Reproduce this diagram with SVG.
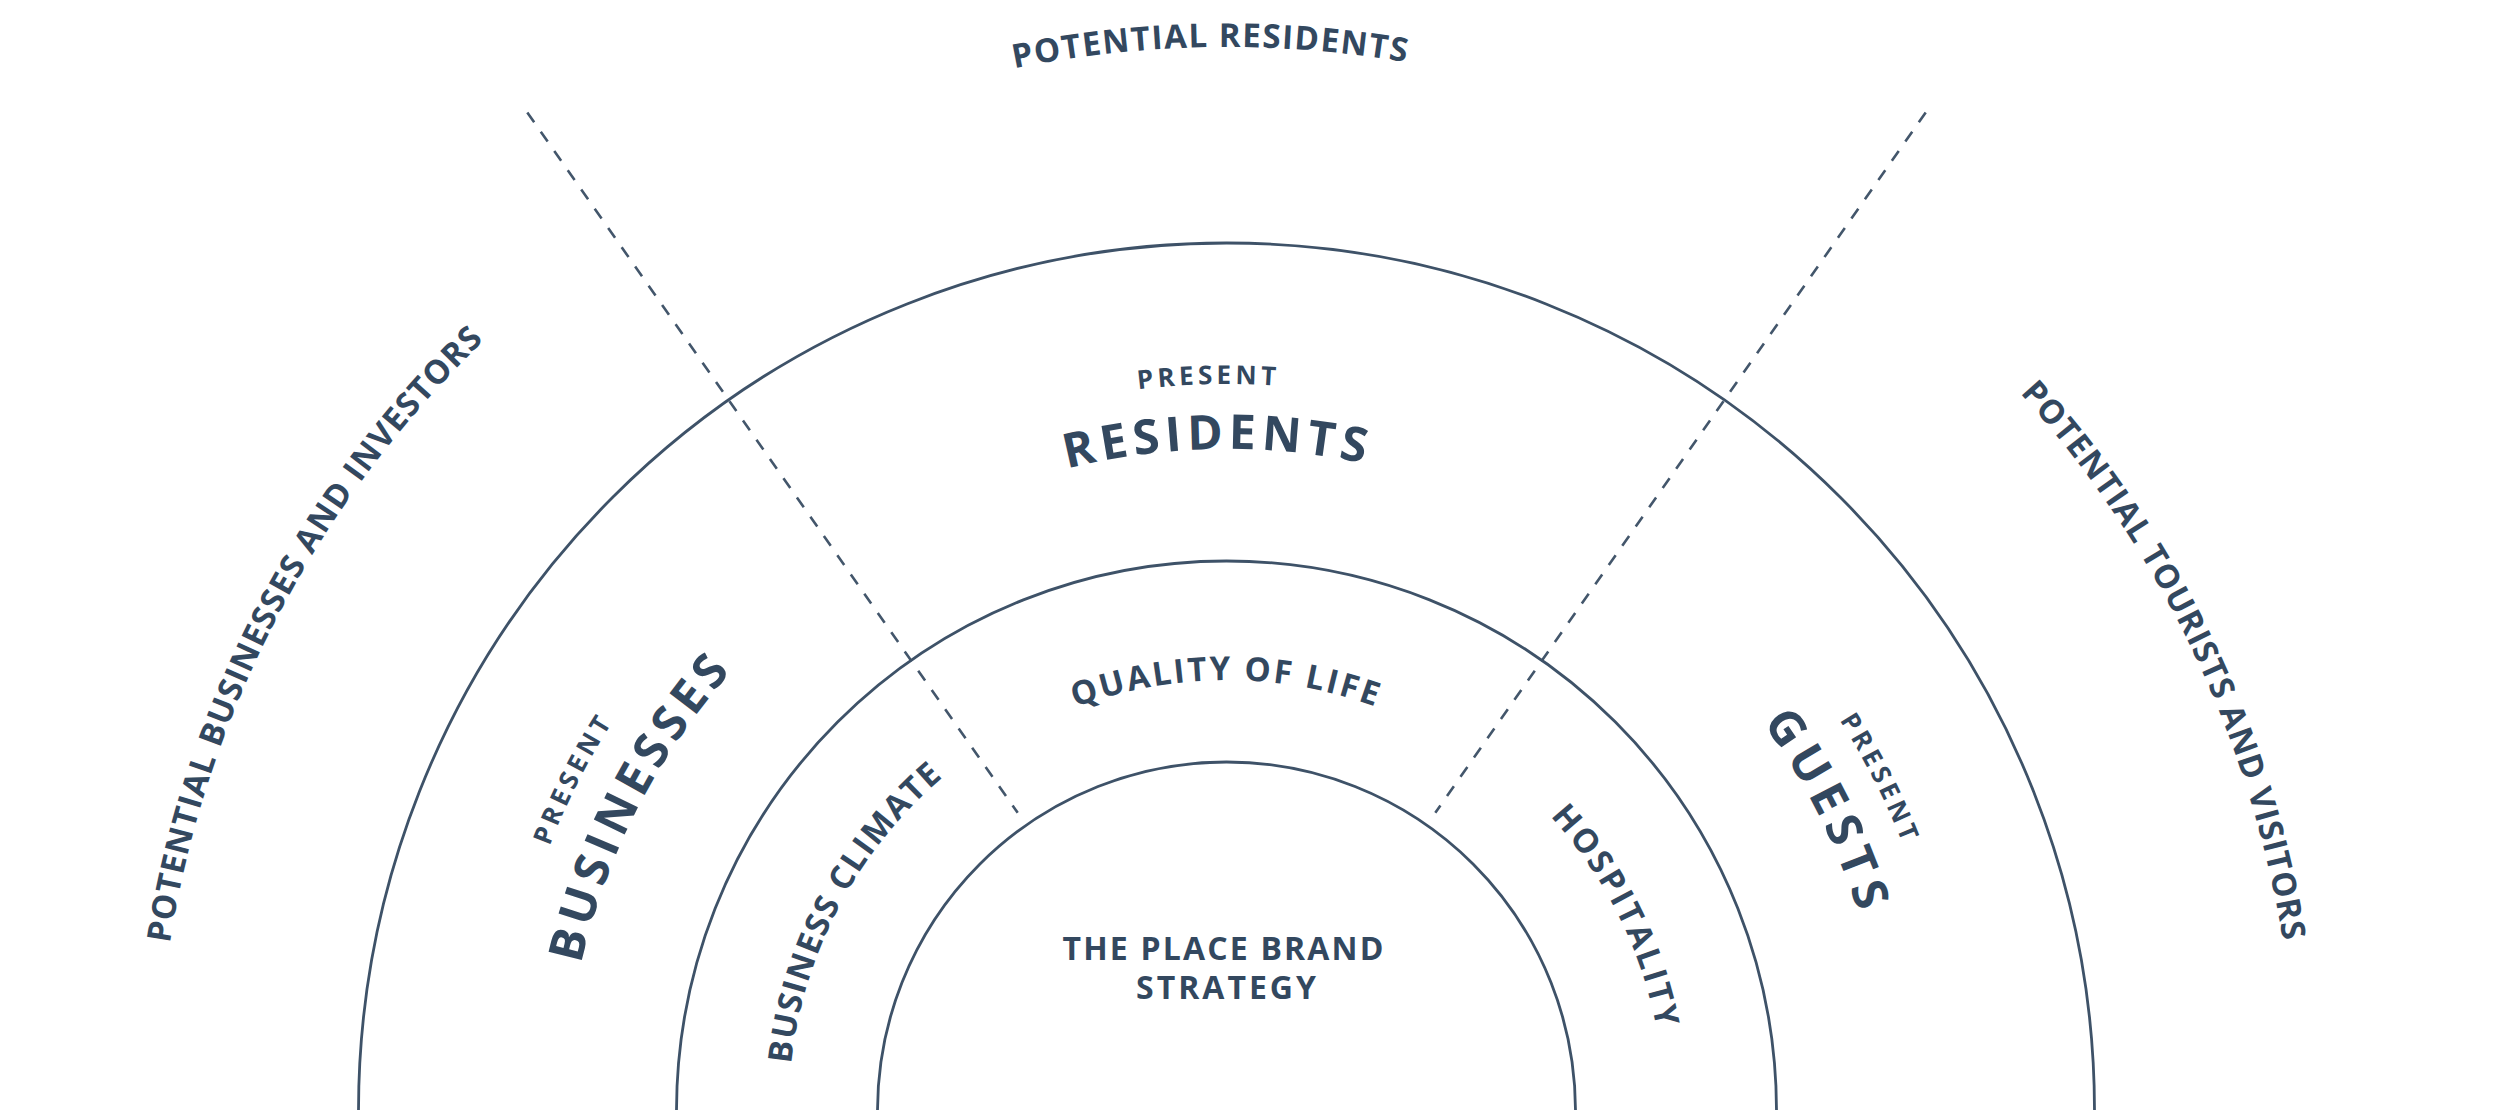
<svg xmlns="http://www.w3.org/2000/svg" xmlns:xlink="http://www.w3.org/1999/xlink" width="2500" height="1110" viewBox="0 0 2500 1110">
  <style>
    .ring { fill: none; stroke: #3e5268; stroke-width: 2.8; }
    .divider { fill: none; stroke: #43566b; stroke-width: 2.6; stroke-dasharray: 12 11.5; }
    .lbl { font-family: "Open Sans", "Liberation Sans", sans-serif; font-weight: 700; fill: #33485f; text-anchor: middle; }
    .pot { font-size: 33px; }
    .pre { font-size: 26px; }
    .big { font-size: 48px; }
    .mid { font-size: 33px; }
    .core { font-size: 32px; }
  </style>
  <defs>
    <path id="arc1064" d="M 162.5 1111 A 1064 1064 0 0 1 2290.5 1111"/>
    <path id="arc1070" d="M 156.5 1111 A 1070 1070 0 0 1 2296.5 1111"/>
    <path id="arc727" d="M 499.5 1111 A 727 727 0 0 1 1953.5 1111"/>
    <path id="arc662" d="M 564.5 1111 A 662 662 0 0 1 1888.5 1111"/>
    <path id="arc431" d="M 795.5 1111 A 431 431 0 0 1 1657.5 1111"/>
    <path id="arc438" d="M 788.5 1111 A 438 438 0 0 1 1664.5 1111"/>
  </defs>
  <rect width="2500" height="1110" fill="#ffffff"/>

  <g id="connectors">
    <line class="divider" x1="527.3" y1="112.5" x2="1017.7" y2="812.8"/>
    <line class="divider" x1="1925.7" y1="112.5" x2="1435.3" y2="812.8"/>
  </g>

  <g id="core-strategy">
    <circle class="ring" cx="1226.5" cy="1111" r="349"/>
    <text class="lbl core" x="1223" y="960" textLength="321" lengthAdjust="spacing">THE PLACE BRAND</text>
    <text class="lbl core" x="1226" y="999" textLength="180" lengthAdjust="spacing">STRATEGY</text>
  </g>

  <g id="ring-middle">
    <circle class="ring" cx="1226.5" cy="1111" r="550"/>
  </g>

  <g id="ring-outer">
    <circle class="ring" cx="1226.5" cy="1111" r="868"/>
  </g>

  <g id="quality-of-life">
    <text class="lbl mid"><textPath href="#arc431" xlink:href="#arc431" startOffset="49.89%" textLength="306" lengthAdjust="spacing">QUALITY OF LIFE</textPath></text>
  </g>
  <g id="business-climate">
    <text class="lbl mid"><textPath href="#arc438" xlink:href="#arc438" startOffset="15.5%" textLength="332" lengthAdjust="spacing">BUSINESS CLIMATE</textPath></text>
  </g>
  <g id="hospitality">
    <text class="lbl mid"><textPath href="#arc438" xlink:href="#arc438" startOffset="85.2%" textLength="240" lengthAdjust="spacing">HOSPITALITY</textPath></text>
  </g>

  <g id="present-residents">
    <text class="lbl pre"><textPath href="#arc727" xlink:href="#arc727" startOffset="49.13%" textLength="138" lengthAdjust="spacing">PRESENT</textPath></text>
    <text class="lbl big"><textPath href="#arc662" xlink:href="#arc662" startOffset="49.45%" textLength="300" lengthAdjust="spacing">RESIDENTS</textPath></text>
  </g>
  <g id="present-businesses">
    <text class="lbl pre"><textPath href="#arc727" xlink:href="#arc727" startOffset="14.89%" textLength="138" lengthAdjust="spacing">PRESENT</textPath></text>
    <text class="lbl big"><textPath href="#arc662" xlink:href="#arc662" startOffset="15.1%" textLength="332" lengthAdjust="spacing">BUSINESSES</textPath></text>
  </g>
  <g id="present-guests">
    <text class="lbl pre"><textPath href="#arc727" xlink:href="#arc727" startOffset="84.94%" textLength="138" lengthAdjust="spacing">PRESENT</textPath></text>
    <text class="lbl big"><textPath href="#arc662" xlink:href="#arc662" startOffset="85.17%" textLength="213" lengthAdjust="spacing">GUESTS</textPath></text>
  </g>

  <g id="potential-residents">
    <text class="lbl pot"><textPath href="#arc1064" xlink:href="#arc1064" startOffset="49.5%" textLength="394" lengthAdjust="spacing">POTENTIAL RESIDENTS</textPath></text>
  </g>
  <g id="potential-businesses">
    <text class="lbl pot"><textPath href="#arc1070" xlink:href="#arc1070" startOffset="15.3%" textLength="692" lengthAdjust="spacing">POTENTIAL BUSINESSES AND INVESTORS</textPath></text>
  </g>
  <g id="potential-tourists">
    <text class="lbl pot"><textPath href="#arc1070" xlink:href="#arc1070" startOffset="85.75%" textLength="616" lengthAdjust="spacing">POTENTIAL TOURISTS AND VISITORS</textPath></text>
  </g>
</svg>
